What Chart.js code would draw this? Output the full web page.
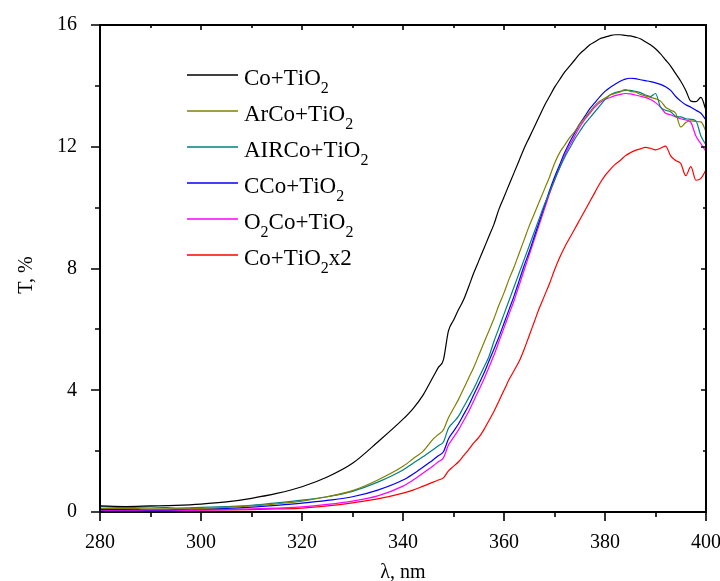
<!DOCTYPE html>
<html>
<head>
<meta charset="utf-8">
<script src="https://cdn.jsdelivr.net/npm/chart.js@4.4.1/dist/chart.umd.min.js"></script>
<style>
	html, body { margin: 0; padding: 0; background: #fff; }
</style>
</head>
<body>
<canvas id="spectra" width="720" height="581"></canvas>
<script>
const wavelengths = [
	280, 285, 290, 295, 300, 305, 310, 315, 320, 325, 330, 335, 340,
	342, 344, 346,
	347, 348, 349, 350, 351, 352, 353, 354, 355, 356,
	357, 358, 359, 360, 361, 362, 363, 364, 365, 366,
	367, 368, 369, 370, 371, 372, 373, 374, 375, 376,
	377, 378, 379, 380, 381, 382, 383, 384, 385, 386,
	387, 388, 389, 390, 391, 392, 393, 394, 395, 396,
	397, 398, 399, 400
];

const coTiO2 = [
	0.20, 0.18, 0.20, 0.22, 0.26, 0.33, 0.45, 0.61, 0.83, 1.15, 1.60, 2.30, 3.05,
	3.40, 3.85, 4.45,
	4.75, 5.00, 5.95, 6.30, 6.65, 6.97, 7.40, 7.85, 8.25, 8.65,
	9.05, 9.45, 9.95, 10.35, 10.75, 11.15, 11.55, 11.95, 12.30, 12.65,
	13.00, 13.35, 13.65, 13.95, 14.20, 14.45, 14.65, 14.85, 15.05, 15.20,
	15.35, 15.45, 15.55, 15.60, 15.65, 15.68, 15.68, 15.66, 15.64, 15.60,
	15.55, 15.45, 15.35, 15.22, 15.05, 14.85, 14.65, 14.40, 14.15, 13.85,
	13.50, 13.48, 13.62, 13.20
];

const arCoTiO2 = [
	0.12, 0.12, 0.10, 0.10, 0.12, 0.15, 0.20, 0.27, 0.36, 0.50, 0.70, 1.05, 1.50,
	1.75, 2.00, 2.40,
	2.55, 2.70, 3.10, 3.40, 3.70, 4.05, 4.40, 4.75, 5.15, 5.55,
	5.95, 6.35, 6.80, 7.20, 7.65, 8.05, 8.50, 8.95, 9.40, 9.80,
	10.20, 10.60, 11.00, 11.45, 11.80, 12.05, 12.30, 12.50, 12.75, 12.95,
	13.15, 13.35, 13.50, 13.60, 13.70, 13.75, 13.80, 13.88, 13.82, 13.80,
	13.72, 13.67, 13.62, 13.58, 13.50, 13.30, 13.20, 13.10, 12.65, 12.80,
	12.85, 12.83, 12.82, 12.50
];

const airCoTiO2 = [
	0.18, 0.15, 0.17, 0.13, 0.15, 0.18, 0.22, 0.30, 0.39, 0.50, 0.68, 0.98, 1.38,
	1.60, 1.82, 2.05,
	2.18, 2.30, 2.75, 2.95, 3.15, 3.45, 3.75, 4.05, 4.40, 4.75,
	5.10, 5.60, 6.05, 6.50, 6.95, 7.40, 7.85, 8.30, 8.75, 9.20,
	9.65, 10.10, 10.50, 10.90, 11.30, 11.65, 11.95, 12.25, 12.50, 12.75,
	12.95, 13.15, 13.35, 13.55, 13.70, 13.78, 13.82, 13.85, 13.85, 13.82,
	13.78, 13.70, 13.65, 13.75, 13.30, 13.20, 13.15, 13.00, 12.98, 12.92,
	12.90, 12.85, 12.35, 12.06
];

const cCoTiO2 = [
	0.08, 0.08, 0.07, 0.08, 0.10, 0.12, 0.16, 0.22, 0.29, 0.38, 0.50, 0.72, 1.05,
	1.25, 1.48, 1.72,
	1.85, 1.98, 2.40, 2.65, 2.90, 3.20, 3.50, 3.85, 4.20, 4.55,
	4.95, 5.35, 5.75, 6.20, 6.65, 7.10, 7.60, 8.10, 8.55, 9.05,
	9.55, 10.05, 10.55, 11.00, 11.40, 11.80, 12.15, 12.45, 12.75, 13.00,
	13.25, 13.45, 13.65, 13.82, 13.95, 14.05, 14.15, 14.22, 14.25, 14.24,
	14.20, 14.17, 14.14, 14.10, 14.05, 13.97, 13.85, 13.65, 13.50, 13.38,
	13.30, 13.20, 13.10, 12.88
];

const o2CoTiO2 = [
	0.05, 0.05, 0.05, 0.05, 0.06, 0.08, 0.10, 0.13, 0.17, 0.25, 0.36, 0.53, 0.85,
	1.05, 1.28, 1.52,
	1.65, 1.78, 2.20, 2.45, 2.70, 3.00, 3.30, 3.65, 4.00, 4.35,
	4.75, 5.15, 5.60, 6.05, 6.50, 6.95, 7.45, 7.95, 8.45, 8.95,
	9.45, 9.95, 10.45, 10.90, 11.30, 11.70, 12.05, 12.35, 12.65, 12.90,
	13.10, 13.30, 13.45, 13.55, 13.62, 13.68, 13.72, 13.75, 13.74, 13.70,
	13.66, 13.62, 13.55, 13.45, 13.30, 13.10, 13.05, 12.98, 12.92, 12.88,
	12.80, 12.35, 12.10, 11.84
];

const coTiO2x2 = [
	0.03, 0.03, 0.04, 0.05, 0.06, 0.07, 0.08, 0.10, 0.13, 0.20, 0.30, 0.43, 0.62,
	0.72, 0.85, 0.98,
	1.05, 1.12, 1.35, 1.50, 1.65, 1.85, 2.05, 2.27, 2.45, 2.70,
	3.00, 3.30, 3.65, 4.00, 4.35, 4.65, 4.95, 5.35, 5.80, 6.25,
	6.70, 7.10, 7.50, 7.95, 8.35, 8.70, 9.00, 9.30, 9.60, 9.90,
	10.20, 10.50, 10.80, 11.05, 11.25, 11.42, 11.55, 11.70, 11.80, 11.88,
	11.93, 11.98, 11.95, 11.90, 11.95, 12.02, 11.70, 11.55, 11.45, 11.05,
	11.35, 10.90, 10.96, 11.24
];

const seriesLabels = ['Co+TiO₂', 'ArCo+TiO₂', 'AIRCo+TiO₂', 'CCo+TiO₂', 'O₂Co+TiO₂', 'Co+TiO₂x2'];
const seriesColors = ['#000000', '#808000', '#008080', '#0000ff', '#ff00ff', '#ff0000'];
const seriesValues = [coTiO2, arCoTiO2, airCoTiO2, cCoTiO2, o2CoTiO2, coTiO2x2];

const xTicks = [280, 300, 320, 340, 360, 380, 400];
const yTicks = [0, 4, 8, 12, 16];

const serif = "'Liberation Serif', 'Times New Roman', serif";

// draws text, turning "₂" into a lowered small 2
function drawSubText(ctx, text, x, y, size) {
	let cx = x;
	for (const ch of text) {
		if (ch === '₂') {
			ctx.font = `${Math.round(size * 0.7)}px ${serif}`;
			ctx.fillText('2', cx, y + size * 0.34);
			cx += ctx.measureText('2').width;
		} else {
			ctx.font = `${size}px ${serif}`;
			ctx.fillText(ch, cx, y);
			cx += ctx.measureText(ch).width;
		}
	}
}

const framePlugin = {
	id: 'frame',
	afterDraw(chart) {
		const { ctx, chartArea: a, scales } = chart;
		const x = scales.x;
		const y = scales.y;
		ctx.save();
		ctx.strokeStyle = '#000';
		ctx.lineWidth = 2;
		ctx.strokeRect(a.left, a.top, a.right - a.left, a.bottom - a.top);

		ctx.lineWidth = 1.6;
		ctx.beginPath();
		for (let v = 280; v <= 400; v += 10) {
			const px = Math.round(x.getPixelForValue(v));
			const major = v % 20 === 0;
			ctx.moveTo(px, a.bottom);
			ctx.lineTo(px, a.bottom + (major ? 9 : 5));
			ctx.moveTo(px, a.top);
			ctx.lineTo(px, a.top + (major ? 5 : 3));
		}
		for (let v = 0; v <= 16; v += 2) {
			const py = Math.round(y.getPixelForValue(v));
			const major = v % 4 === 0;
			ctx.moveTo(a.left, py);
			ctx.lineTo(a.left - (major ? 9 : 5), py);
			ctx.moveTo(a.right, py);
			ctx.lineTo(a.right - (major ? 5 : 3), py);
		}
		ctx.stroke();

		// legend
		ctx.fillStyle = '#000';
		ctx.textBaseline = 'alphabetic';
		ctx.textAlign = 'left';
		ctx.lineWidth = 1.3;
		seriesLabels.forEach((label, i) => {
			const ly = 75 + i * 36;
			ctx.strokeStyle = seriesColors[i];
			ctx.beginPath();
			ctx.moveTo(187, ly);
			ctx.lineTo(238, ly);
			ctx.stroke();
			drawSubText(ctx, label, 244, ly + 10, 23);
		});

		// axis titles
		ctx.font = `20px ${serif}`;
		ctx.textAlign = 'center';
		ctx.fillText('λ, nm', 403, 578);
		ctx.translate(32, 275);
		ctx.rotate(-Math.PI / 2);
		ctx.fillText('T, %', 0, 0);
		ctx.restore();
	}
};

new Chart(document.getElementById('spectra'), {
	type: 'line',
	data: {
		datasets: seriesValues.map((vals, i) => ({
			label: seriesLabels[i],
			data: wavelengths.map((w, j) => ({ x: w, y: vals[j] })),
			borderColor: seriesColors[i],
			borderWidth: 1.2,
			pointRadius: 0,
			cubicInterpolationMode: 'monotone',
			fill: false
		}))
	},
	options: {
		responsive: false,
		animation: false,
		layout: { padding: { top: 25, right: 14, left: 0, bottom: 0 } },
		scales: {
			x: {
				type: 'linear',
				min: 280,
				max: 400,
				afterFit: (s) => { s.height = 69; s.paddingLeft = 0; s.paddingRight = 0; },
				afterBuildTicks: (s) => { s.ticks = xTicks.map(v => ({ value: v })); },
				grid: { display: false },
				border: { display: false },
				ticks: {
					color: '#000',
					padding: 11,
					maxRotation: 0,
					font: { family: serif, size: 20 }
				}
			},
			y: {
				min: 0,
				max: 16,
				afterFit: (s) => { s.width = 100; s.paddingTop = 0; s.paddingBottom = 0; },
				afterBuildTicks: (s) => { s.ticks = yTicks.map(v => ({ value: v })); },
				grid: { display: false },
				border: { display: false },
				ticks: {
					color: '#000',
					padding: 15,
					font: { family: serif, size: 20 }
				}
			}
		},
		plugins: {
			legend: { display: false },
			tooltip: { enabled: false }
		}
	},
	plugins: [framePlugin]
});
</script>
</body>
</html>
